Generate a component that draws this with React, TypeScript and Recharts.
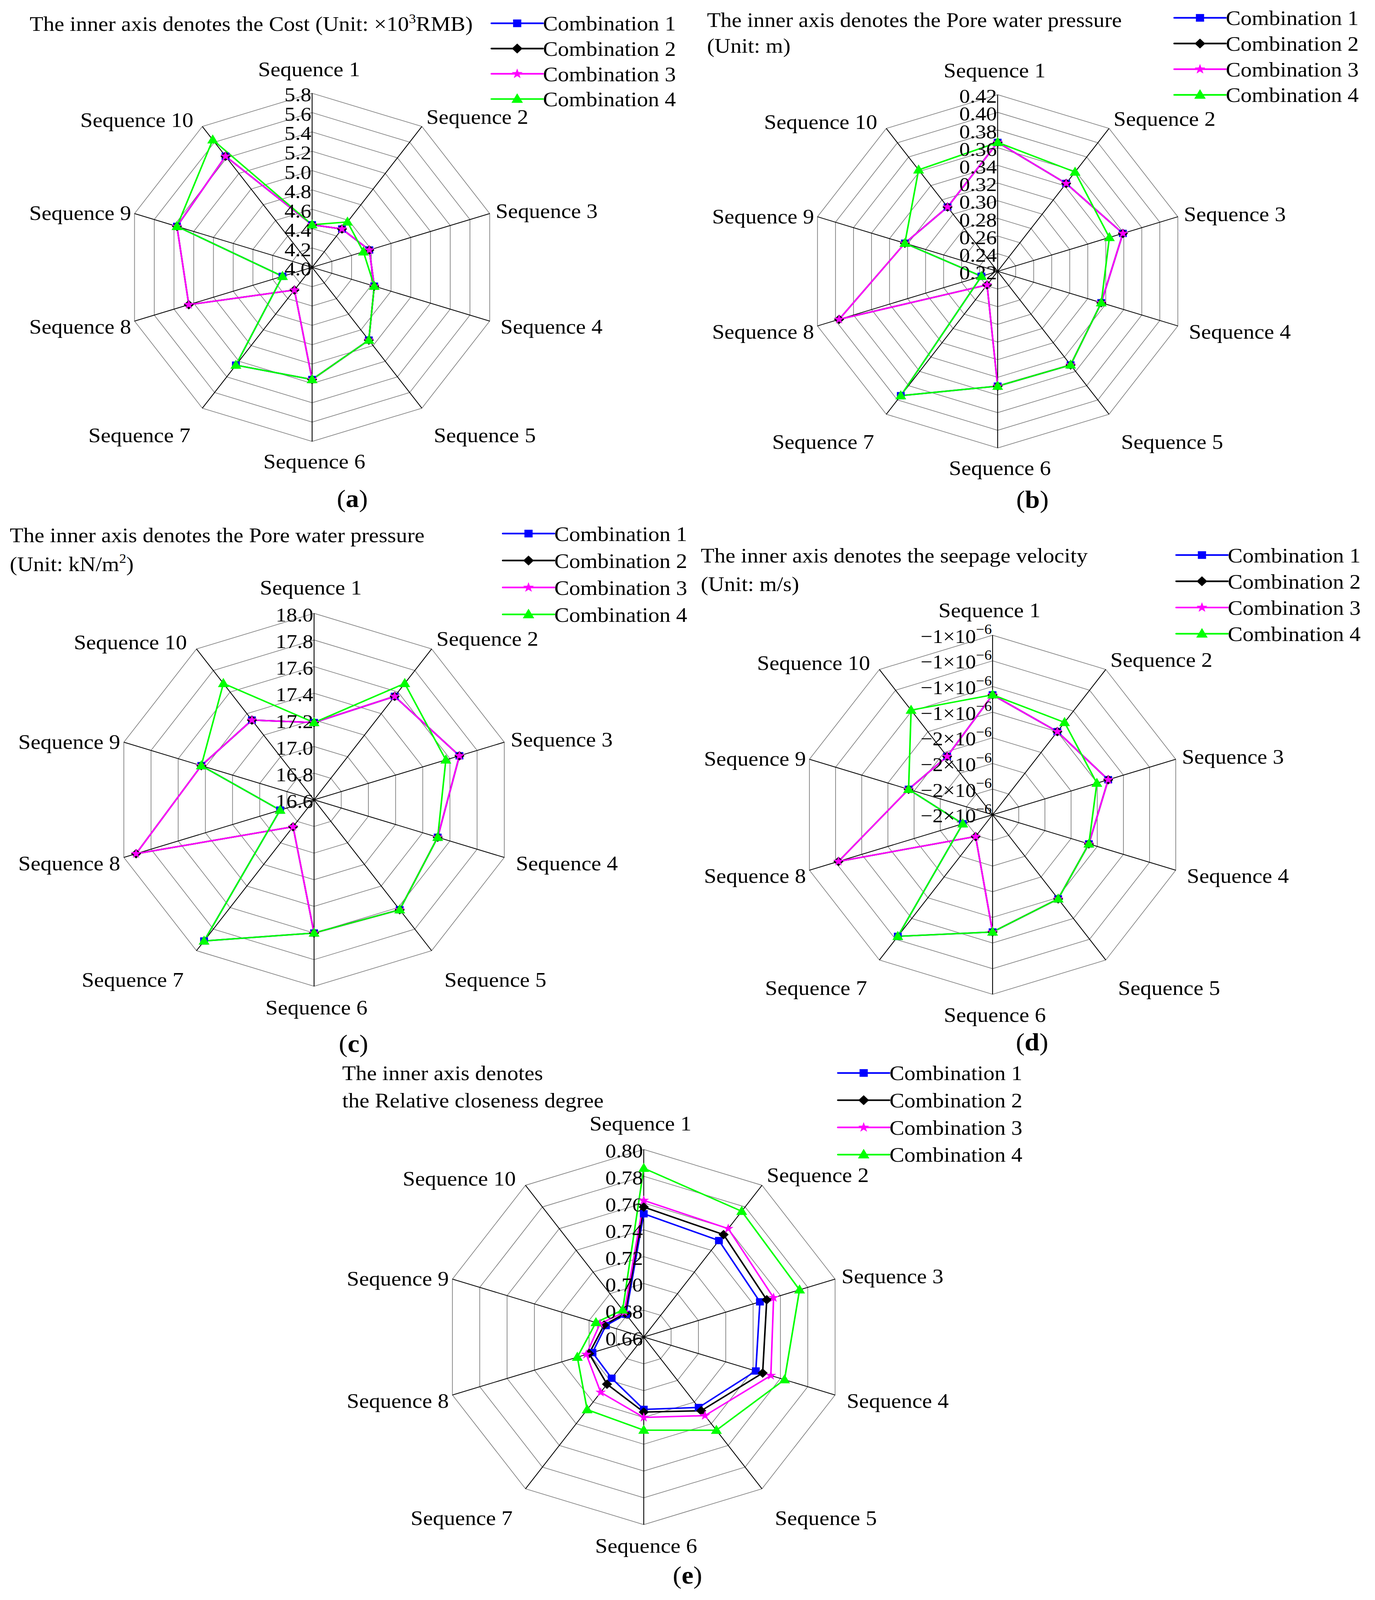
import React from 'react';
import { RadarChart, Radar, PolarGrid, PolarAngleAxis, PolarRadiusAxis } from 'recharts';

// ---------- data ----------
const sequences = [
  'Sequence 1', 'Sequence 2', 'Sequence 3', 'Sequence 4', 'Sequence 5',
  'Sequence 6', 'Sequence 7', 'Sequence 8', 'Sequence 9', 'Sequence 10',
];
const combinations = ['Combination 1', 'Combination 2', 'Combination 3', 'Combination 4'];

// (a) Cost (x10^3 RMB)
const costC1 = [4.44, 4.49, 4.58, 4.63, 4.93, 5.16, 5.25, 4.3, 5.37, 5.42];
const costC2 = [4.44, 4.49, 4.58, 4.63, 4.93, 5.16, 4.29, 5.25, 5.37, 5.42];
const costC3 = [4.44, 4.49, 4.58, 4.63, 4.93, 5.16, 4.29, 5.25, 5.37, 5.42];
const costC4 = [4.44, 4.58, 4.52, 4.63, 4.93, 5.16, 5.25, 4.3, 5.37, 5.63];
const costTicks = [4.0, 4.2, 4.4, 4.6, 4.8, 5.0, 5.2, 5.4, 5.6, 5.8];

// (b) Pore water pressure (m)
const headC1 = [0.366, 0.343, 0.359, 0.335, 0.351, 0.35, 0.394, 0.238, 0.323, 0.31];
const headC2 = [0.366, 0.343, 0.359, 0.335, 0.351, 0.35, 0.239, 0.396, 0.323, 0.31];
const headC3 = [0.366, 0.343, 0.359, 0.335, 0.351, 0.35, 0.239, 0.396, 0.323, 0.31];
const headC4 = [0.366, 0.359, 0.344, 0.335, 0.351, 0.35, 0.394, 0.238, 0.323, 0.362];
const headTicks = [0.22, 0.24, 0.26, 0.28, 0.3, 0.32, 0.34, 0.36, 0.38, 0.4, 0.42];

// (c) Pore water pressure (kN/m2)
const pressC1 = [17.18, 17.56, 17.67, 17.51, 17.62, 17.6, 17.91, 16.85, 17.43, 17.34];
const pressC2 = [17.18, 17.56, 17.67, 17.51, 17.62, 17.6, 16.85, 17.91, 17.43, 17.34];
const pressC3 = [17.18, 17.56, 17.67, 17.51, 17.62, 17.6, 16.85, 17.91, 17.43, 17.34];
const pressC4 = [17.18, 17.68, 17.57, 17.51, 17.62, 17.6, 17.91, 16.85, 17.43, 17.68];
const pressTicks = [16.6, 16.8, 17.0, 17.2, 17.4, 17.6, 17.8, 18.0];

// (d) Seepage velocity (m/s)
const velC1 = [-1.265e-6, -1.399e-6, -1.316e-6, -1.464e-6, -1.389e-6, -1.286e-6, -1.028e-6, -1.972e-6, -1.558e-6, -1.638e-6];
const velC2 = [-1.265e-6, -1.399e-6, -1.316e-6, -1.464e-6, -1.389e-6, -1.286e-6, -1.99e-6, -1.022e-6, -1.558e-6, -1.638e-6];
const velC3 = [-1.265e-6, -1.399e-6, -1.316e-6, -1.464e-6, -1.389e-6, -1.286e-6, -1.99e-6, -1.022e-6, -1.558e-6, -1.638e-6];
const velC4 = [-1.265e-6, -1.31e-6, -1.403e-6, -1.464e-6, -1.389e-6, -1.286e-6, -1.028e-6, -1.972e-6, -1.558e-6, -1.192e-6];
const velTicks = [-2.2e-6, -2.0e-6, -1.8e-6, -1.6e-6, -1.4e-6, -1.2e-6, -1.0e-6, -0.8e-6];

// (e) Relative closeness degree
const closeC1 = [0.752, 0.749, 0.745, 0.742, 0.725, 0.714, 0.698, 0.6975, 0.6877, 0.681];
const closeC2 = [0.757, 0.7545, 0.75, 0.747, 0.728, 0.716, 0.7035, 0.7, 0.689, 0.682];
const closeC3 = [0.762, 0.76, 0.755, 0.753, 0.7325, 0.72, 0.711, 0.702, 0.692, 0.683];
const closeC4 = [0.786, 0.776, 0.774, 0.763, 0.746, 0.7295, 0.727, 0.7086, 0.695, 0.685];
const closeTicks = [0.66, 0.68, 0.7, 0.72, 0.74, 0.76, 0.78, 0.8];

// ---------- styles ----------
const PAGE_W = 3520;
const PAGE_H = 4393;
const FONT = '"Liberation Serif", "Times New Roman", serif';
const COLORS = ['#0000ff', '#000000', '#ff00ff', '#00ff00'];
const KEYS = ['c1', 'c2', 'c3', 'c4'];
// label offsets (dx, dy, anchor) from each outer vertex, for radius ~500
const LABEL_OFFSETS: [number, number, string][] = [
  [-8, -70, 'middle'], [12, -28, 'start'], [16, -8, 'start'], [29, 15, 'start'], [32, 77, 'start'],
  [6, 56, 'middle'], [-32, 77, 'end'], [-9, 15, 'end'], [-9, -2, 'end'], [-24, -19, 'end'],
];

type Seg = { t: string; sup?: boolean };

const starPoints = (x: number, y: number, ro: number, ri: number) => {
  const pts: string[] = [];
  for (let k = 0; k < 10; k++) {
    const a = ((-90 + k * 36) * Math.PI) / 180;
    const r = k % 2 === 0 ? ro : ri;
    pts.push(`${x + r * Math.cos(a)},${y + r * Math.sin(a)}`);
  }
  return pts.join(' ');
};

function Marker({ kind, x, y, s = 1 }: { kind: number; x: number; y: number; s?: number }) {
  if (x == null || y == null || isNaN(x) || isNaN(y)) return null;
  if (kind === 0) return <rect x={x - 10 * s} y={y - 10 * s} width={20 * s} height={20 * s} fill={COLORS[0]} />;
  if (kind === 1)
    return (
      <polygon
        points={`${x},${y - 13 * s} ${x + 13 * s},${y} ${x},${y + 13 * s} ${x - 13 * s},${y}`}
        fill={COLORS[1]}
      />
    );
  if (kind === 2) return <polygon points={starPoints(x, y, 14 * s, 5.6 * s)} fill={COLORS[2]} />;
  return (
    <polygon
      points={`${x},${y - 15 * s} ${x + 14 * s},${y + 10 * s} ${x - 14 * s},${y + 10 * s}`}
      fill={COLORS[3]}
    />
  );
}

function renderSegs(segs: Seg[], supSize: number, raise: number) {
  const out: React.ReactNode[] = [];
  let up = false;
  segs.forEach((sg, i) => {
    if (sg.sup) {
      out.push(
        <tspan key={i} dy={-raise} fontSize={supSize}>
          {sg.t}
        </tspan>,
      );
      up = true;
    } else {
      out.push(
        <tspan key={i} dy={up ? raise : undefined}>
          {sg.t}
        </tspan>,
      );
      up = false;
    }
  });
  return out;
}

type Panel = {
  id: string;
  left: number;
  top: number;
  width: number;
  height: number;
  cx: number;
  cy: number;
  R: number;
  ticks: number[];
  series: number[][];
  fmt: (v: number) => string;
  sci?: boolean;
  title: Seg[][];
  titleX: number;
  titleY: number;
  titleGap: number;
  legX: number;
  legY: number;
  legGap: number;
  tagX: number;
  tagY: number;
};

const panels: Panel[] = [
  {
    id: 'a', left: 0, top: 0, width: 1760, height: 1440, cx: 799, cy: 734, R: 478,
    ticks: costTicks, series: [costC1, costC2, costC3, costC4], fmt: (v) => v.toFixed(1),
    title: [[{ t: 'The inner axis denotes the Cost (Unit: ×10' }, { t: '3', sup: true }, { t: 'RMB)' }]],
    titleX: 76, titleY: 65, titleGap: 0, legX: 1258, legY: 64, legGap: 69.3, tagX: 902, tagY: 1368,
  },
  {
    id: 'b', left: 1760, top: 0, width: 1760, height: 1440, cx: 794, cy: 745, R: 485,
    ticks: headTicks, series: [headC1, headC2, headC3, headC4], fmt: (v) => v.toFixed(2),
    title: [[{ t: 'The inner axis denotes the Pore water pressure' }], [{ t: '(Unit: m)' }]],
    titleX: 1810, titleY: 54, titleGap: 71, legX: 3006, legY: 49, legGap: 70.5, tagX: 2643, tagY: 1370,
  },
  {
    id: 'c', left: 0, top: 1440, width: 1760, height: 1460, cx: 804, cy: 756, R: 512,
    ticks: pressTicks, series: [pressC1, pressC2, pressC3, pressC4], fmt: (v) => v.toFixed(1),
    title: [
      [{ t: 'The inner axis denotes the Pore water pressure' }],
      [{ t: '(Unit: kN/m' }, { t: '2', sup: true }, { t: ')' }],
    ],
    titleX: 25, titleY: 1469, titleGap: 79, legX: 1287, legY: 1465, legGap: 74, tagX: 905, tagY: 2864,
  },
  {
    id: 'd', left: 1760, top: 1440, width: 1760, height: 1460, cx: 781, cy: 797, R: 493,
    ticks: velTicks, series: [velC1, velC2, velC3, velC4], fmt: (v) => String(Math.abs(Math.round(v * 1e6))), sci: true,
    title: [[{ t: 'The inner axis denotes the seepage velocity' }], [{ t: '(Unit: m/s)' }]],
    titleX: 1794, titleY: 1524, titleGap: 79, legX: 3011, legY: 1524, legGap: 72, tagX: 2642, tagY: 2860,
  },
  {
    id: 'e', left: 0, top: 2900, width: 3520, height: 1493, cx: 1648, cy: 771, R: 515,
    ticks: closeTicks, series: [closeC1, closeC2, closeC3, closeC4], fmt: (v) => v.toFixed(2),
    title: [[{ t: 'The inner axis denotes' }], [{ t: 'the Relative closeness degree' }]],
    titleX: 876, titleY: 2946, titleGap: 75, legX: 2145, legY: 2946, legGap: 74.7, tagX: 1760, tagY: 4324,
  },
];

function RadarPanel({ p }: { p: Panel }) {
  const data = sequences.map((s, i) => ({
    seq: s,
    c1: p.series[0][i],
    c2: p.series[1][i],
    c3: p.series[2][i],
    c4: p.series[3][i],
  }));

  const angleTick = (props: any) => {
    const i = props.index as number;
    const th = (i * 36 * Math.PI) / 180;
    const k = p.R / 500;
    const vx = p.cx + p.R * Math.sin(th);
    const vy = p.cy - p.R * Math.cos(th);
    const [dx, dy, anchor] = LABEL_OFFSETS[i];
    return (
      <text
        x={vx + dx * k}
        y={vy + dy * k}
        dy="0.35em"
        textAnchor={anchor as any}
        fontSize={57}
        fontFamily={FONT}
        fill="#000"
      >
        {props.payload.value}
      </text>
    );
  };

  const radiusTick = (props: any) => {
    const v = props.payload.value as number;
    if (p.sci) {
      return (
        <text x={props.x - 2} y={props.y + 2} dy="0.35em" textAnchor="end" fontSize={54} fontFamily={FONT} fill="#000">
          <tspan>{'\u2212' + p.fmt(v) + '×10'}</tspan>
          <tspan dy={-24} fontSize={38}>
            {'\u22126'}
          </tspan>
        </text>
      );
    }
    return (
      <text x={props.x - 2} y={props.y + 3} dy="0.35em" textAnchor="end" fontSize={55} fontFamily={FONT} fill="#000">
        {p.fmt(v)}
      </text>
    );
  };

  return (
    <div style={{ position: 'absolute', left: p.left, top: p.top, width: p.width, height: p.height }}>
      <RadarChart
        width={p.width}
        height={p.height}
        cx={p.cx}
        cy={p.cy}
        outerRadius={p.R}
        data={data}
        margin={{ top: 0, right: 0, bottom: 0, left: 0 }}
        startAngle={90}
        endAngle={-270}
      >
        <PolarGrid gridType="polygon" radialLines={false} stroke="#808080" strokeWidth={1.8} />
        <PolarGrid gridType="polygon" polarRadius={[]} stroke="#000000" strokeWidth={2.2} />
        <PolarAngleAxis dataKey="seq" axisLine={false} tickLine={false} tick={angleTick} />
        <PolarRadiusAxis
          angle={90}
          type="number"
          domain={[p.ticks[0], p.ticks[p.ticks.length - 1]]}
          ticks={p.ticks as any}
          tickCount={p.ticks.length}
          allowDecimals={true}
          allowDataOverflow
          axisLine={false}
          tickLine={false}
          tick={radiusTick}
        />
        {KEYS.map((k, idx) => (
          <Radar
            key={k}
            name={combinations[idx]}
            dataKey={k}
            stroke={COLORS[idx]}
            strokeWidth={4}
            fill="none"
            fillOpacity={0}
            isAnimationActive={false}
            dot={(dp: any) => <Marker key={`${k}-${dp.index}`} kind={idx} x={dp.cx} y={dp.cy} />}
          />
        ))}
      </RadarChart>
    </div>
  );
}

function Overlay() {
  return (
    <svg
      width={PAGE_W}
      height={PAGE_H}
      style={{ position: 'absolute', left: 0, top: 0, pointerEvents: 'none' }}
      fontFamily={FONT}
    >
      {panels.map((p) => (
        <g key={p.id}>
          {p.title.map((line, li) => (
            <text key={li} x={p.titleX} y={p.titleY + li * p.titleGap} dy="0.35em" fontSize={57} fill="#000">
              {renderSegs(line, 36, 22)}
            </text>
          ))}
          {combinations.map((c, i) => {
            const y = p.legY + i * p.legGap;
            return (
              <g key={c}>
                <line x1={p.legX} y1={y} x2={p.legX + 132} y2={y} stroke={COLORS[i]} strokeWidth={4.5} strokeLinecap="round" />
                <Marker kind={i} x={p.legX + 66} y={y} s={1.05} />
                <text x={p.legX + 132} y={y} dy="0.35em" fontSize={57} fill="#000">
                  {c}
                </text>
              </g>
            );
          })}
          <text x={p.tagX} y={p.tagY} dy="0.35em" textAnchor="middle" fontSize={68} fill="#000">
            <tspan>(</tspan>
            <tspan fontWeight="bold">{p.id}</tspan>
            <tspan>)</tspan>
          </text>
        </g>
      ))}
    </svg>
  );
}

export default function App() {
  // fit the full figure into the visible viewport height (keeps the whole figure in the photograph)
  const vh = typeof window !== 'undefined' && window.innerHeight ? window.innerHeight : PAGE_H;
  const sy = Math.min(1, vh / PAGE_H);
  return (
    <div
      style={{
        position: 'absolute',
        left: 0,
        top: 0,
        width: PAGE_W,
        height: PAGE_H,
        background: '#fff',
        overflow: 'hidden',
        transform: `scale(1, ${sy})`,
        transformOrigin: '0 0',
      }}
    >
      {panels.map((p) => (
        <RadarPanel key={p.id} p={p} />
      ))}
      <Overlay />
    </div>
  );
}
